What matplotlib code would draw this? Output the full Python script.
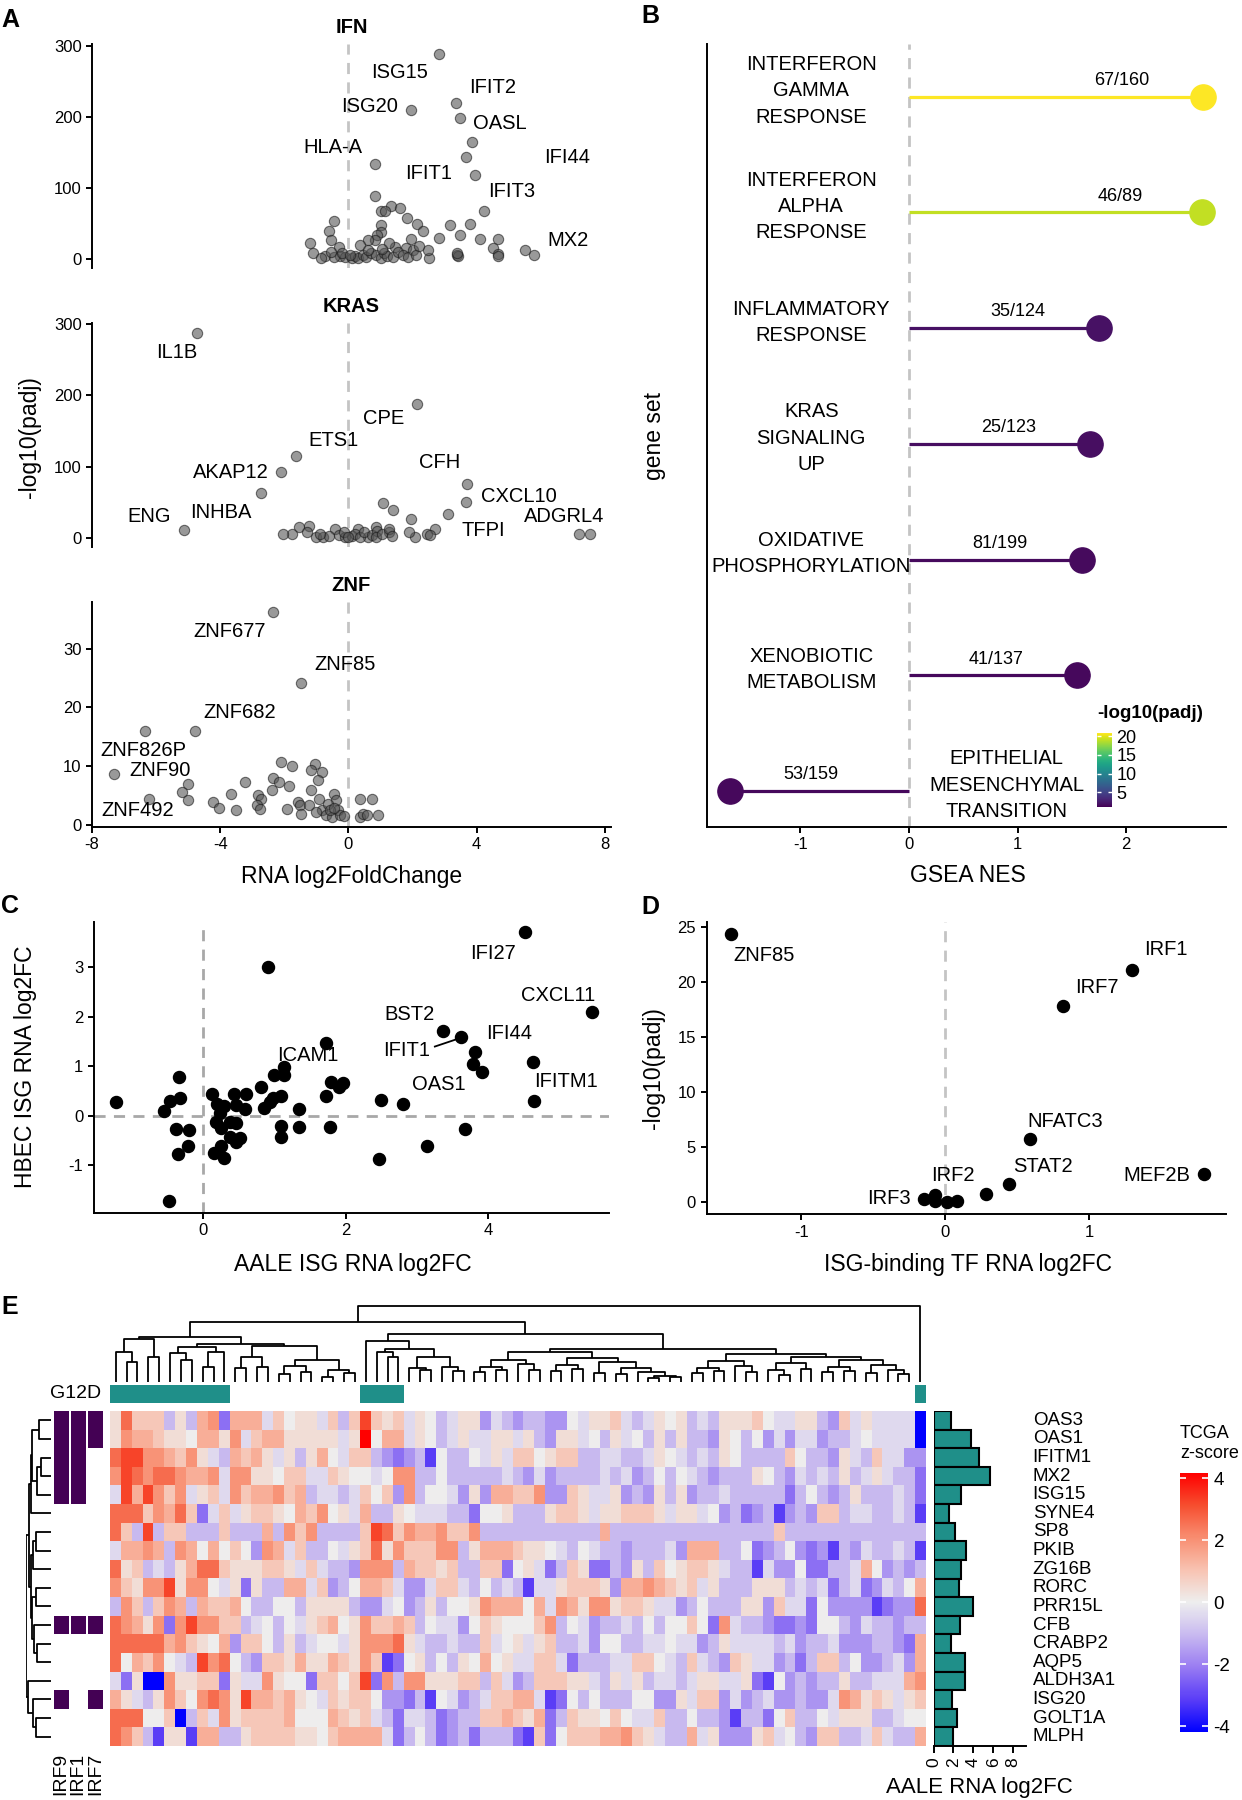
import matplotlib
matplotlib.use("Agg")
import matplotlib.pyplot as plt
import numpy as np
from matplotlib.colors import LinearSegmentedColormap, Normalize, ListedColormap
from matplotlib.cm import ScalarMappable

plt.rcParams['font.family'] = ['Liberation Sans', 'DejaVu Sans']
plt.rcParams['axes.unicode_minus'] = False
plt.rcParams['axes.linewidth'] = 1.4
plt.rcParams['xtick.major.width'] = 1.4
plt.rcParams['ytick.major.width'] = 1.4
plt.rcParams['xtick.major.size'] = 4
plt.rcParams['ytick.major.size'] = 4
plt.rcParams['xtick.labelsize'] = 12
plt.rcParams['ytick.labelsize'] = 12

# ---------------- data: panel A (volcano plots) ----------------
ifn_x = [2.83, 3.35, 1.94, 3.47, 3.85, 3.66, 0.84, 3.95, 0.84, 4.22, 5.78, 5.50,
         1.34, 1.61, 1.03, 1.15, 1.84, 2.15, 2.33, 3.16, 3.80, 3.47, 2.83, 4.11, 4.67,
         4.50, 4.67, 3.39, 3.42, 2.52, 2.48, 1.96, 1.78, 1.46, 1.28, 1.03, 1.00, 0.90,
         0.84, 0.60, 0.37, -0.46, -0.62, -0.55, -1.20, -1.12, -0.74, -0.30, -0.27, -0.46,
         -0.10, 0.10, 0.20, 0.30, 0.45, 0.55, 0.70, 0.85, 1.00, 1.10, 1.20, 1.40, 1.55,
         1.70, 1.85, 2.00, 2.10, -0.55, -0.85, -0.20, 0.05, 0.60, 1.05, 2.20, 3.40, 4.68]
ifn_y = [288, 219, 210, 199, 165, 144, 133, 118, 88, 67, 6, 12,
         75, 71, 68, 68, 57, 49, 40, 48, 49, 34, 29, 28, 28,
         15, 7, 6, 4, 2, 13, 28, 15, 17, 23, 48, 38, 34,
         27, 27, 20, 53, 40, 26, 23, 8, 4, 17, 4, 3,
         3, 2, 4, 1, 6, 3, 9, 5, 2, 8, 4, 3, 10,
         5, 3, 12, 6, 10, 2, 9, 6, 12, 14, 18, 8, 4]
ifn_labels = {'ISG15': (1.59, 263), 'IFIT2': (4.50, 241), 'ISG20': (0.66, 214),
              'OASL': (4.71, 190), 'HLA-A': (-0.5, 157), 'IFI44': (6.82, 143),
              'IFIT1': (2.49, 120), 'IFIT3': (5.10, 95), 'MX2': (6.84, 26)}

kras_x = [-4.71, 2.15, -1.64, -2.10, -2.72, 3.70, 3.66, 3.10, -5.14, 7.20, 7.54,
          1.07, 1.40, 1.94, 2.70, 2.46, 2.08, 1.90, 0.87, 0.29, -0.42, -1.23, -1.54,
          -1.76, -2.03, -1.02, 1.28, 0.60, -0.80, -0.60, -0.30, -0.10, 0.10, 0.20,
          0.35, 0.50, 0.75, 0.90, 0.85, 1.05, -0.15, 0.00, 1.25, 1.35, 2.55, -1.30, -0.90]
kras_y = [287, 187, 115, 92, 63, 76, 51, 34, 11, 5, 5,
          49, 39, 27, 13, 6, 1.4, 8, 15, 13, 12, 17, 15,
          5, 5, 1.4, 8, 1.4, 2, 3, 4, 2, 3, 6,
          2, 8, 4, 10, 2, 5, 8, 1, 12, 3, 4, 9, 6]
kras_labels = {'IL1B': (-5.36, 260), 'CPE': (1.09, 167), 'ETS1': (-0.46, 137),
               'CFH': (2.83, 106), 'AKAP12': (-3.68, 91), 'CXCL10': (5.31, 58),
               'INHBA': (-3.97, 36), 'ENG': (-6.23, 30), 'ADGRL4': (6.74, 30),
               'TFPI': (4.22, 11)}

znf_x = [-2.34, -1.49, -4.78, -6.35, -7.31, -6.23, -4.99, -5.20, -4.99, -4.24, -4.03,
         -3.65, -3.50, -3.23, -2.82, -2.72, -2.85, -2.75, -2.38, -2.34, -2.16, -2.11,
         -1.76, -1.85, -1.58, -1.51, -1.91, -1.48, -1.18, -1.23, -1.05, -1.18, -0.83,
         -0.96, -0.92, -0.83, -1.02, -0.46, -0.40, -0.65, -0.71, -0.52, -0.34, -0.25,
         -0.15, 0.37, 0.74, 0.91, 0.35, 0.45, 0.57, -0.58, -0.46]
znf_y = [36.3, 24.2, 16.0, 15.9, 8.6, 4.4, 7.0, 5.6, 4.2, 3.8, 2.9,
         5.2, 2.5, 7.2, 5.0, 4.4, 3.3, 2.7, 5.9, 7.9, 7.3, 10.7,
         10.0, 6.6, 3.9, 3.4, 2.6, 1.9, 5.9, 3.3, 10.3, 9.4, 9.0,
         7.6, 4.3, 2.5, 2.2, 5.3, 4.2, 3.6, 1.6, 1.3, 2.5, 1.6,
         1.4, 4.3, 4.4, 1.6, 1.3, 1.9, 1.6, 2.5, 2.9]
znf_labels = {'ZNF677': (-3.71, 33), 'ZNF85': (-0.12, 27.3), 'ZNF682': (-3.40, 19.1),
              'ZNF826P': (-6.39, 12.7), 'ZNF90': (-5.88, 9.3), 'ZNF492': (-6.58, 2.5)}

# ---------------- data: panel B (GSEA) ----------------
gsea_sets = ['INTERFERON\nGAMMA\nRESPONSE', 'INTERFERON\nALPHA\nRESPONSE',
             'INFLAMMATORY\nRESPONSE', 'KRAS\nSIGNALING\nUP',
             'OXIDATIVE\nPHOSPHORYLATION', 'XENOBIOTIC\nMETABOLISM',
             'EPITHELIAL\nMESENCHYMAL\nTRANSITION']
gsea_nes = [2.71, 2.70, 1.75, 1.67, 1.59, 1.55, -1.65]
gsea_padj = [20.8, 19.0, 2.0, 1.8, 1.6, 1.5, 1.5]
gsea_counts = ['67/160', '46/89', '35/124', '25/123', '81/199', '41/137', '53/159']

# ---------------- data: panel C ----------------
aale_fc = [4.52, 0.91, 5.45, 3.36, 3.62, 3.81, 3.78, 3.91, 4.62, 4.64, 1.73, 1.13,
           0.99, 1.13, 0.82, 1.80, 1.91, 1.96, 1.73, 1.10, 0.98, 0.94, 0.85, 1.35,
           1.10, 1.10, 1.35, 1.78, 2.49, 2.81, 3.67, 3.14, 2.47, -1.22, -0.54, -0.46,
           -0.33, -0.32, -0.37, -0.19, -0.21, -0.35, -0.48, 0.13, 0.20, 0.30, 0.44,
           0.60, 0.47, 0.59, 0.18, 0.26, 0.38, 0.46, 0.38, 0.52, 0.46, 0.26, 0.16,
           0.30, 0.24]
hbec_fc = [3.71, 3.00, 2.09, 1.72, 1.59, 1.29, 1.04, 0.88, 1.09, 0.30, 1.47, 0.98,
           0.83, 0.83, 0.59, 0.69, 0.59, 0.66, 0.40, 0.40, 0.36, 0.29, 0.15, 0.13,
           -0.20, -0.42, -0.22, -0.22, 0.32, 0.24, -0.27, -0.60, -0.86, 0.29, 0.09, 0.31,
           0.78, 0.36, -0.27, -0.28, -0.60, -0.77, -1.71, 0.44, 0.24, 0.19, 0.44,
           0.44, 0.22, 0.13, -0.13, -0.25, -0.13, -0.15, -0.42, -0.45, -0.52, -0.61, -0.75,
           -0.84, 0.05]
c_labels = {'IFI27': (4.06, 3.27), 'CXCL11': (4.98, 2.44), 'BST2': (2.89, 2.05),
            'IFIT1': (2.86, 1.33), 'IFI44': (4.29, 1.66), 'ICAM1': (1.47, 1.22),
            'OAS1': (3.31, 0.63), 'IFITM1': (5.09, 0.69)}

# ---------------- data: panel D ----------------
tf_fc = [-1.49, 1.30, 0.82, 0.59, 1.80, 0.44, 0.28, -0.15, -0.07, -0.07, 0.01, 0.08]
tf_padj = [24.3, 21.1, 17.8, 5.67, 2.52, 1.58, 0.67, 0.24, 0.60, 0.09, 0.0, 0.09]
d_labels = {'ZNF85': (-1.26, 22.4), 'IRF1': (1.53, 22.9), 'IRF7': (1.05, 19.5),
            'NFATC3': (0.83, 7.3), 'STAT2': (0.68, 3.2), 'MEF2B': (1.47, 2.4),
            'IRF2': (0.05, 2.4), 'IRF3': (-0.39, 0.3)}

# ---------------- data: panel E (heatmap) ----------------
genes = ['OAS3', 'OAS1', 'IFITM1', 'MX2', 'ISG15', 'SYNE4', 'SP8', 'PKIB', 'ZG16B',
         'RORC', 'PRR15L', 'CFB', 'CRABP2', 'AQP5', 'ALDH3A1', 'ISG20', 'GOLT1A', 'MLPH']
aale_rna = [1.8, 3.72, 4.6, 5.72, 2.8, 1.52, 2.12, 3.28, 2.8, 2.52, 3.92, 2.68,
            1.72, 3.12, 3.2, 1.88, 2.4, 2.0]
# z-score levels, one code per sample
z_levels = {'B': -4.0, 'V': -3.0, 'P': -2.2, 'p': -1.6, 'l': -1.0, 'w': -0.4, '0': 0.0,
            'o': 0.4, 'k': 0.9, 's': 1.4, 'S': 1.9, 'r': 2.5, 'R': 3.1, 'X': 4.0}
heat_rows = [
    "o r k k k l o l s S P s s s w k 0 o o w k l k  R k o k w o 0 l w o o p w l p l l p p 0 w o o k  w l w o 0 o l w l o o o k 0 w w o o l p k w o w  w w w B",
    "o S s s k o o 0 s s o S w k s s o o o o o w o  X 0 s s w o 0 l w o w w o o w o l p o o w 0 l o  w 0 l o l o l l p o 0 l 0 p w p w w p l l w 0 w  w w w B",
    "r R R S S s k S o w l s k s o w o l o s 0 w k  k l p P p l V 0 l l 0 w o w k k 0 o k k l l w w  l l w o 0 w l w l o 0 l l l l k 0 l l p o w l k  w w p p",
    "S R r S r r S s s S w S S o o 0 k k w w k o 0  0 w 0 S S l l 0 l l l l l w l p w p l l l l w l  w p l 0 l 0 w l p l l l o 0 l p w l w l o l w o  w l l P",
    "w R s R S k S w o k w S k s s S k s l w w l w  k 0 k p S l 0 0 w p o p s s k k S p p k o w w o  p l p o l o p l l w l l l l l P l 0 l p l o l l  l w l P",
    "r r r k S s r k P w k w o k k o 0 s k S 0 o w  s l l o 0 w w w l l P 0 0 o l l l o k k o w o o  k k k o w o o w 0 p l P p l V p l p k k l w w l  l w l V",
    "r k l R l k k l l l k l l l s l S k S l l l l  k R r k S s s S k k S l l l l l l l l l l l s l  l l l l l l l l l l l l l l k l l l l l l l l l  l l l l",
    "w s s S s l S s 0 s 0 k 0 p S s w k l l 0 w o  k r o S k k k S S l o s s s k o o 0 w l 0 w l l  p l l l w p s s s l l 0 P p l 0 p P p V l p w l  l w l V",
    "r o k l w l o s r r k o o o k k o w k w l l p  S S S l s k k o k l l k k P 0 o w P l k o P P l  p o l k 0 o k k o w l l V w p p 0 P P l l w s 0  p l p l",
    "S k o S S R o S S 0 w o P o l l s s w k p l 0  s s k w p p w k k w l 0 l w l V w w o k k k o p  s s S s k o k w o l l l o o o l w l w P l w P p  w l 0 s",
    "l S k l k S s l s k k s 0 l l 0 0 l o o o o l  p p w 0 p l o l 0 0 o S s s s 0 s w S s o S S o  k k o w w p l 0 l l l o o p k w w P 0 p p p p V  P p p r",
    "r S s o S P S R S S k k l w 0 l 0 w o k s 0 o  S k k s k l 0 w w p 0 k o 0 0 0 k S l 0 w p l l  w l 0 l 0 0 k 0 P S w l l p P P p P 0 0 l p w l  l p l l",
    "r r r r r s S k o 0 s p k k 0 l o l w 0 0 w o  S S S r o w l l w l l k w 0 o w o k l l w p 0 0  l l w w 0 w w p l o w w w w l w p l l w p p p l  l p P s",
    "r 0 s k S 0 w l R S r 0 l p k k o s o o s k o  S k V P 0 o l 0 l o 0 s 0 o w w k k w P l l l w  w k k 0 w l k w l p k o w w p l P l k k l 0 p p  l w p s",
    "w P o B B S o o k k P o w w S o 0 0 P k k 0 k  R P S l S S o o o k k l k w p l k k k o o w l o  w o l w w l w o o w w o P V 0 p l p l l o l l w  w w s S",
    "s o w l o S k 0 S r S o R s s k s o 0 w k o k  k 0 p p P l V 0 w p l w k k s s w V P 0 l 0 l l  l 0 0 p p o w k k p w p l w p p l p p w S s o k  o w o k",
    "r r r 0 0 k B l k w S o k k k k s 0 0 0 s k o  k w l P w w l P p l l k k s k o s P l k o o 0 k  0 w w k l l 0 l l p V l l P 0 k l l 0 w o o o l  l w 0 0",
    "r S k l V o o V s s l l o k k k k o o 0 k s s  s s w P l 0 l P p l P l l l P V k P 0 k k k s s  S k o w l l s w o p p p o k w 0 l p k k l l w k  w l l s",
]
g12d = [1] * 11 + [0] * 12 + [1] * 4 + [0] * 47 + [1]
irf_names = ['IRF9', 'IRF1', 'IRF7']
irf_bind = {'IRF9': [0, 1, 2, 3, 4, 11, 15],
            'IRF1': [0, 1, 2, 3, 4, 11],
            'IRF7': [0, 1, 11, 15]}

# dendrograms: (height, left, right); leaves are sample / gene indices
col_A = (44, (42, (30, 0, (20, 1, 2)), (25, 3, 4)),
         (38, (35, (29, 5, (22, 6, 7)), (30, (15, 8, 9), 10)),
          (36, (25, (14, 11, 12), (15, 13, 14)),
           (22, (16, (8, 15, 16), (10, 17, 18)), (12, (5, 19, 20), (9, 21, 22))))))
col_B1 = (40, 23, (33, (30, 24, (25, 25, 26)),
                   (25, (14, 27, (12, 28, 29)), (15, 30, (11, 31, 32)))))
col_B2a = (30, (22, (15, (10, 33, 34), (12, 35, 36)), (18, 37, (12, 38, 39))),
           (24, (17, (11, 40, 41), (13, 42, 43)),
            (20, (9, 44, 45), (14, (8, 46, 47), (10, 48, (6, (4, 49, 50), (5, 51, 52)))))))
col_B2b = (28, (21, (14, (9, 53, 54), (11, 55, 56)), (16, 57, (10, 58, 59))),
           (25, (19, (12, 60, (7, 61, 62)), (13, 63, 64)),
            (22, (15, (10, 65, 66), (11, 67, 68)), (17, (9, 69, 70), (12, 71, (8, 72, 73))))))
col_tree = (75, (59, col_A, (47, col_B1, (33, col_B2a, col_B2b))), 74)
row_tree = (4.0,
            (3.6,
             (3.3, (3.07, (1.87, 0, 1), (2.2, (1.6, 2, 3), 4)), 5),
             (3.2, (2.9, (2.5, 6, 7), 8), (3.0, (2.5, 9, 10), (2.7, 11, (2.3, 12, 13))))),
            (3.73, 14, (2.9, 15, (2.4, 16, 17))))

# ---------------- figure ----------------
W, H = 1242, 1800
fig = plt.figure(figsize=(W / 100, H / 100), dpi=100)


def px_axes(l, t, r, b):
    return fig.add_axes([l / W, 1 - b / H, (r - l) / W, (b - t) / H])


def px_text(x, y, s, **kw):
    fig.text(x / W, 1 - y / H, s, **kw)


def classic(ax, bottom=True):
    ax.spines['top'].set_visible(False)
    ax.spines['right'].set_visible(False)
    if not bottom:
        ax.spines['bottom'].set_visible(False)
        ax.set_xticks([])
    ax.patch.set_alpha(0)


dash = (0, (4, 3))

# panel A
def volcano(ax, xs, ys, labels, ylim, yticks, title, bottom):
    ax.axvline(0, color='#c4c4c4', lw=2, ls=dash, zorder=1)
    ax.scatter(xs, ys, s=55, facecolor='#555555', edgecolor='#1a1a1a', linewidth=0.8,
               alpha=0.6, zorder=3)
    ax.set_xlim(-8, 8.19)
    ax.set_ylim(*ylim)
    ax.set_yticks(yticks)
    for name, (tx, ty) in labels.items():
        ax.text(tx, ty, name, ha='center', va='center', fontsize=14.5, zorder=4)
    classic(ax, bottom)
    ax.set_title(title, fontsize=14.5, fontweight='bold', pad=8)


axA1 = px_axes(92, 44, 611, 268)
volcano(axA1, ifn_x, ifn_y, ifn_labels, (-12.7, 302.4), [0, 100, 200, 300], 'IFN', False)
axA2 = px_axes(92, 323, 611, 547)
volcano(axA2, kras_x, kras_y, kras_labels, (-12.6, 301), [0, 100, 200, 300], 'KRAS', False)
axA3 = px_axes(92, 602, 611, 827)
volcano(axA3, znf_x, znf_y, znf_labels, (-0.4, 38), [0, 10, 20, 30], 'ZNF', True)
axA3.set_xticks([-8, -4, 0, 4, 8])
px_text(352, 876, 'RNA log2FoldChange', ha='center', va='center', fontsize=16.5)
px_text(29, 437, '-log10(padj)', ha='center', va='center', rotation=90, fontsize=16.5)

# panel B
axB = px_axes(706.5, 44, 1226, 827)
padj_norm = Normalize(1.1, 20.8)
cm = plt.get_cmap('viridis')
ypos = np.arange(len(gsea_sets), 0, -1)
axB.axvline(0, color='#c4c4c4', lw=2, ls=dash, zorder=1)
for yp, nes, pa, name, cnt in zip(ypos, gsea_nes, gsea_padj, gsea_sets, gsea_counts):
    c = cm(padj_norm(pa))
    axB.plot([0, nes], [yp, yp], color=c, lw=2.3, zorder=2, solid_capstyle='butt')
    axB.scatter([nes], [yp], s=330, color=c, zorder=3)
    side = 1 if nes > 0 else -1
    axB.text(nes - side * 0.75, yp + 0.14, cnt, ha='center', va='center', fontsize=13)
    axB.text(-0.9 * side, yp + 0.05, name, ha='center', va='center', fontsize=14.5,
             linespacing=1.49)
axB.set_xlim(-1.865, 2.92)
axB.set_ylim(0.689, 7.455)
axB.set_yticks([])
axB.set_xticks([-1, 0, 1, 2])
classic(axB)
px_text(968, 876, 'GSEA NES', ha='center', va='center', fontsize=16.5)
px_text(654, 436, 'gene set', ha='center', va='center', rotation=90, fontsize=16.5)
caxB = px_axes(1097, 733, 1112, 807)
cbB = fig.colorbar(ScalarMappable(norm=padj_norm, cmap=cm), cax=caxB)
cbB.outline.set_visible(False)
cbB.set_ticks([5, 10, 15, 20])
caxB.tick_params(direction='in', color='white', length=3, width=1, labelsize=13,
                 left=True, right=True, pad=3)
px_text(1097, 713, '-log10(padj)', ha='left', va='center', fontsize=13.5, fontweight='bold')

# panel C
axC = px_axes(93.7, 921.7, 609, 1213)
axC.axvline(0, color='#a8a8a8', lw=2, ls=dash, zorder=1)
axC.axhline(0, color='#a8a8a8', lw=2, ls=dash, zorder=1)
axC.scatter(aale_fc, hbec_fc, s=75, color='black', zorder=3)
for name, (tx, ty) in c_labels.items():
    axC.text(tx, ty, name, ha='center', va='center', fontsize=14.5, zorder=4)
axC.plot([3.25, 3.56], [1.40, 1.55], color='black', lw=1.3)
axC.set_xlim(-1.53, 5.69)
axC.set_ylim(-1.96, 3.92)
axC.set_xticks([0, 2, 4])
axC.set_yticks([-1, 0, 1, 2, 3])
classic(axC)
px_text(353, 1265, 'AALE ISG RNA log2FC', ha='center', va='center', fontsize=16.5)
px_text(26, 1067, 'HBEC ISG RNA log2FC', ha='center', va='center', rotation=90, fontsize=16.5)

# panel D
axD = px_axes(706.5, 921.7, 1226, 1214.3)
axD.axvline(0, color='#c4c4c4', lw=2, ls=dash, zorder=1)
axD.scatter(tf_fc, tf_padj, s=75, color='black', zorder=3)
for name, (tx, ty) in d_labels.items():
    axD.text(tx, ty, name, ha='center', va='center', fontsize=14.5, zorder=4)
axD.set_xlim(-1.66, 1.95)
axD.set_ylim(-1.15, 25.45)
axD.set_xticks([-1, 0, 1])
axD.set_yticks([0, 5, 10, 15, 20, 25])
classic(axD)
px_text(968, 1265, 'ISG-binding TF RNA log2FC', ha='center', va='center', fontsize=16.5)
px_text(654, 1068, '-log10(padj)', ha='center', va='center', rotation=90, fontsize=16.5)

# panel E
Z = np.array([[z_levels[c] for c in r.split()] for r in heat_rows])
n_rows, n_cols = Z.shape
assert n_cols == len(g12d)
heat_cmap = LinearSegmentedColormap.from_list('tcga', [
    (0.0, '#0000FF'), (0.125, '#5a3df7'), (0.25, '#9a7df2'), (0.375, '#c8b9f0'),
    (0.5, '#EEEEEE'), (0.625, '#f8c3b2'), (0.75, '#f88e71'), (0.875, '#f64e2f'),
    (1.0, '#FF0000')])
heat_norm = Normalize(-4, 4)
hm_l, hm_t, hm_r, hm_b = 110.3, 1411, 925.6, 1746
axH = px_axes(hm_l, hm_t, hm_r, hm_b)
axH.imshow(Z, cmap=heat_cmap, norm=heat_norm, aspect='auto', interpolation='nearest',
           extent=(0, n_cols, n_rows, 0))
axH.axis('off')

teal = '#1f8f89'
purple = '#440154'
axG = px_axes(hm_l, 1385, hm_r, 1403.3)
axG.imshow(np.array([g12d]), cmap=ListedColormap(['white', teal]), vmin=0, vmax=1,
           aspect='auto', interpolation='nearest', extent=(0, n_cols, 1, 0))
axG.axis('off')
px_text(101, 1394, 'G12D', ha='right', va='center', fontsize=14)


def draw_tree(ax, node, top):
    if isinstance(node, int):
        return node + 0.5, 0.0
    h, left, right = node
    pl, hl = draw_tree(ax, left, top)
    pr, hr = draw_tree(ax, right, top)
    a, b = [pl, pl, pr, pr], [hl, h, h, hr]
    if top:
        ax.plot(a, b, color='black', lw=1.3, solid_capstyle='butt')
    else:
        ax.plot(b, a, color='black', lw=1.3, solid_capstyle='butt')
    return (pl + pr) / 2, h


axCD = px_axes(hm_l, 1305, hm_r, 1382)
draw_tree(axCD, col_tree, True)
axCD.set_xlim(0, n_cols)
axCD.set_ylim(0, 76)
axCD.axis('off')

axRD = px_axes(26, hm_t, 51, hm_b)
draw_tree(axRD, row_tree, False)
axRD.set_ylim(n_rows, 0)
axRD.set_xlim(4.05, 0)
axRD.axis('off')

# IRF binding annotation (columns drawn in pixel units)
axI = px_axes(53.6, hm_t, 103.2, hm_b)
irf_left = [53.6, 70.6, 88.1]
for nm, xl in zip(irf_names, irf_left):
    rows = irf_bind[nm]
    axI.barh(rows, [14.9] * len(rows), left=xl, height=1.0, align='edge', color=purple)
    px_text(xl + 7.4, 1753, nm, ha='center', va='top', rotation=90, fontsize=14)
axI.set_xlim(53.6, 103.2)
axI.set_ylim(n_rows, 0)
axI.axis('off')

# bar chart
axR = px_axes(933.5, hm_t, 1025.6, hm_b)
axR.barh(np.arange(n_rows), aale_rna, height=1.0, color=teal, edgecolor='black', lw=1.5)
axR.set_ylim(n_rows - 0.5, -0.5)
axR.set_xlim(0, 9.25)
axR.set_xticks([0, 2, 4, 6, 8])
axR.tick_params(axis='x', labelrotation=90, labelsize=12.5, length=5)
axR.set_yticks([])
for s in ['top', 'right']:
    axR.spines[s].set_visible(False)
axR.spines['left'].set_visible(False)
axR.patch.set_alpha(0)
px_text(979, 1788, 'AALE RNA log2FC', ha='center', va='center', fontsize=16)
for i, g in enumerate(genes):
    px_text(1032.7, hm_t + (i + 0.5) * (hm_b - hm_t) / n_rows, g, ha='left', va='center',
            fontsize=13.5)

# heatmap colour legend
caxE = px_axes(1180, 1472.7, 1208, 1732)
cbE = fig.colorbar(ScalarMappable(norm=Normalize(-4.18, 4.18), cmap=heat_cmap), cax=caxE)
cbE.outline.set_visible(False)
cbE.set_ticks([-4, -2, 0, 2, 4])
caxE.tick_params(direction='in', color='white', length=4, width=1.2, labelsize=13.5,
                 left=True, right=True, pad=4)
px_text(1180, 1433, 'TCGA', ha='left', va='center', fontsize=13)
px_text(1180, 1454, 'z-score', ha='left', va='center', fontsize=13)

# panel letters
for letter, (x, y) in {'A': (10, 20), 'B': (650, 16), 'C': (10, 906), 'D': (650, 907),
                       'E': (10, 1307)}.items():
    px_text(x, y, letter, ha='center', va='center', fontsize=18, fontweight='bold')

fig.savefig('out.png', dpi=100)
